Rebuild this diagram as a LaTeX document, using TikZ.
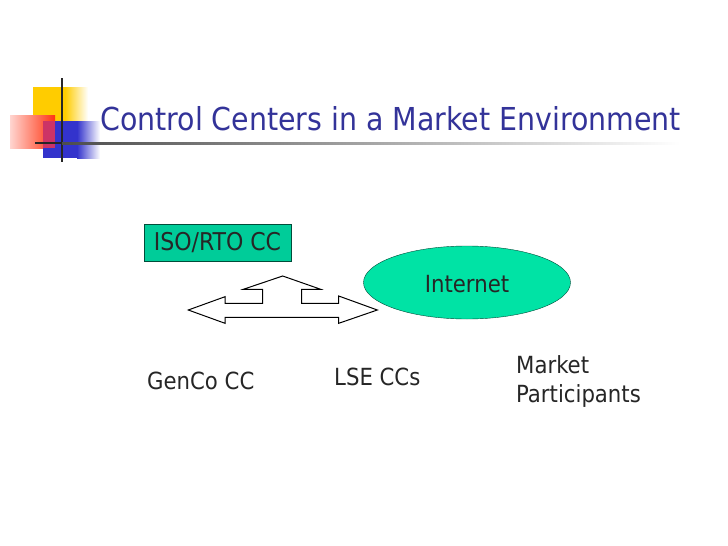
\documentclass[tikz,border=0pt]{standalone}
\usepackage{fontspec}
\setmainfont{DejaVu Sans Condensed}
\usetikzlibrary{shapes.geometric}
\definecolor{titleblue}{HTML}{333399}
\definecolor{boxgreen}{HTML}{00CC99}
\definecolor{ovalgreen}{HTML}{00E3A5}
\definecolor{lineteal}{HTML}{004D3A}
\definecolor{sqyellow}{HTML}{FFCC00}
\definecolor{sqblue}{HTML}{3333CC}
\definecolor{sqred}{HTML}{FF3311}
\definecolor{sqpink}{HTML}{FFD5D0}
\definecolor{sqcrimson}{HTML}{CC3366}
\tikzset{
  label/.style={font=\fontsize{23.6}{29}\selectfont,text=black!85,inner sep=0pt,align=left},
  isobox/.style={draw=lineteal,fill=boxgreen,minimum width=147pt,minimum height=37pt,inner sep=0pt},
  cloud/.style={ellipse,draw=lineteal,fill=ovalgreen,minimum width=207pt,minimum height=73pt,inner sep=0pt}
}
\begin{document}
\begin{tikzpicture}[x=1pt,y=-1pt]
  \useasboundingbox (0,0) rectangle (728,546);
  \shade[left color=sqyellow,right color=white] (65,87) rectangle (88,123);
  \fill[sqyellow] (33,87) rectangle (65,123);
  \shade[left color=sqpink,right color=sqred] (10,115) rectangle (55,148);
  \fill[sqblue] (43,121) rectangle (77,158);
  \fill[sqcrimson] (43,121) rectangle (55,148);
  \shade[left color=sqblue,right color=white] (77,121) rectangle (100,158);
  \draw[line width=2pt,black!85] (62,78) -- (62,162);
  \draw[line width=2pt,black!85] (35,143) -- (62,143);
  \shade[left color=black!70,right color=white] (62,142) rectangle (680,144);
  \draw (100,119) node[anchor=west,text=titleblue,inner sep=0pt,font=\fontsize{31.6}{36}\selectfont] (title) {Control Centers in a Market Environment};

  \draw (217.5,242.5) node[isobox,font=\fontsize{24.5}{28}\selectfont,text=black!85] (iso) {ISO/RTO CC};
  \draw (467,282.5) node[cloud] (internet) {};
  \draw (467,284) node[label] (nettext) {Internet};
  \draw (147,381) node[label,anchor=west] (genco) {GenCo CC};
  \draw (334,377) node[label,anchor=west] (lse) {LSE CCs};
  \draw (516,381.5) node[label,anchor=west] (market) {Market\\Participants};

  \draw[line width=1pt,fill=white] (188.3,310) -- (225,296.7) -- (225,303.3) -- (262.7,303.3) -- (262.7,289.3) -- (243.3,289.3)
    -- (282.7,276) -- (320.7,289.3) -- (301.7,289.3) -- (301.7,303.3) -- (338.7,303.3) -- (338.7,296) -- (377.3,310)
    -- (338.7,323.3) -- (338.7,317.3) -- (225,317.3) -- (225,323.3) -- cycle;
\end{tikzpicture}
\end{document}
